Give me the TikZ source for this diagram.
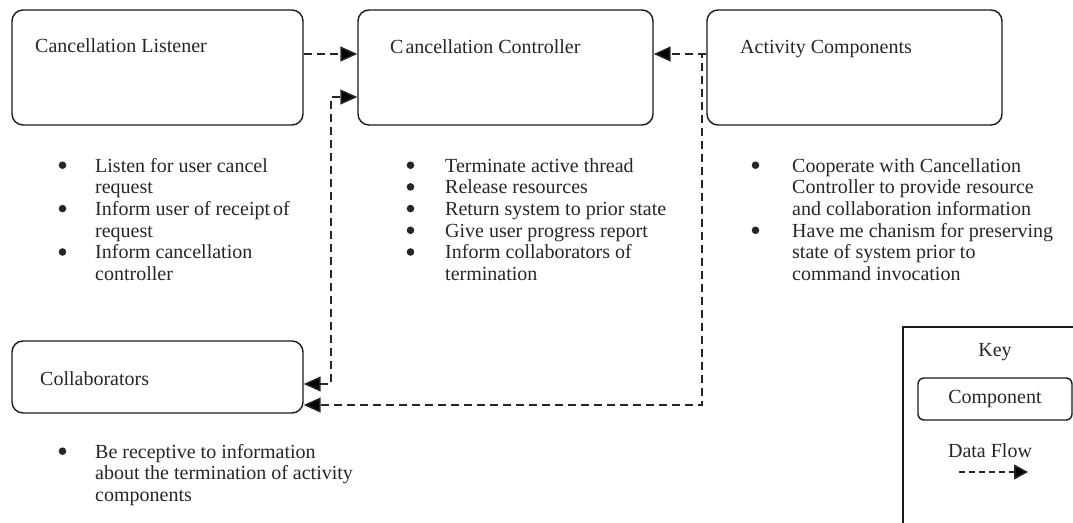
\documentclass[tikz,border=0pt]{standalone}
\usepackage{fontspec}
\setmainfont{Liberation Serif}
\usetikzlibrary{arrows.meta}
% round list bullet, centred about 7pt above the baseline
\newcommand{\listdot}{\tikz[x=1pt,y=1pt,baseline=0pt]\fill (3.8,6.8) circle (3.8);}
\begin{document}
\begin{tikzpicture}[x=1pt,y=-1pt,
  txt/.style={inner sep=0pt, text=black!85, font=\fontsize{20}{21.7}\selectfont},
  comp/.style={draw=black!90, line width=1.4pt, rounded corners=11pt, inner sep=0pt},
  title/.style={txt, anchor=base west},
  itemlist/.style={txt, anchor=base west},
  flow/.style={draw=black!85, line width=1.5pt, dash pattern=on 8pt off 5pt},
  tip/.style={-{Triangle[length=17pt,width=15pt]}},
  tips/.style={{Triangle[length=17pt,width=15pt]}-{Triangle[length=17pt,width=15pt]}}
]
\useasboundingbox (0,0) rectangle (1073,522);
\clip (0,0) rectangle (1073,522);

% components
\node[comp, minimum width=291pt, minimum height=115pt] (listener) at (157.5,67.5) {};
\node[comp, minimum width=295pt, minimum height=115pt] (ctrl) at (505.5,67.5) {};
\node[comp, minimum width=295pt, minimum height=115pt] (act) at (854.5,67.5) {};
\node[comp, minimum width=291pt, minimum height=72pt] (collab) at (157.5,377) {};

% component names
\node[title] (tlistener) at (35,52) {Cancellation Listener};
\node[title] (tctrl) at (390,53) {C\kern2pt ancellation Controller};
\node[title] (tact) at (740,53) {Activity Components};
\node[title] (tcollab) at (40,385) {Collaborators};

% responsibilities
\node[itemlist] (llistener) at (58.5,172) {\begin{tabular}[t]{@{}p{36.5pt}@{}l@{}}
  \listdot & Listen for user cancel\\
   & request\\
  \listdot & Inform user of receipt\kern3pt of\\
   & request\\
  \listdot & Inform cancellation\\
   & controller
\end{tabular}};
\node[itemlist] (lctrl) at (406.5,172) {\begin{tabular}[t]{@{}p{38.5pt}@{}l@{}}
  \listdot & Terminate active thread\\
  \listdot & Release resources\\
  \listdot & Return system to prior state\\
  \listdot & Give user progress report\\
  \listdot & Inform collaborators of\\
   & termination
\end{tabular}};
\node[itemlist] (lact) at (751.5,172) {\begin{tabular}[t]{@{}p{40.5pt}@{}l@{}}
  \listdot & Cooperate with Cancellation\\
   & Controller to provide resource\\
   & and collaboration information\\
  \listdot & Have me\ chanism for preserving\\
   & state of system prior to\\
   & command invocation
\end{tabular}};
\node[itemlist] (lcollab) at (58.5,458) {\begin{tabular}[t]{@{}p{36.5pt}@{}l@{}}
  \listdot & Be receptive to information\\
   & about the termination of activity\\
   & components
\end{tabular}};

% data flows
\coordinate (jl1) at (331,97);
\coordinate (jl2) at (331,384);
\coordinate (jr) at (702,405);
\draw[flow, tip] ([yshift=13.5pt]listener.east) -- ([yshift=13.5pt]ctrl.west);
\draw[flow, tip] ([yshift=13.5pt]act.west) -- ([yshift=13.5pt]ctrl.east);
\draw[flow, tips] ([yshift=-7pt]collab.east) -- (jl2) -- (jl1) -- ([yshift=-29.5pt]ctrl.west);
\draw[flow, tip] ([yshift=13.5pt]act.west) -| (jr) -- ([yshift=-28pt]collab.east);

% key
\draw[draw=black!90, line width=1.4pt] (903,540) -- (903,327) -- (1090,327);
\node[txt] (keytitle) at (995,352) {Key};
\node[comp, rounded corners=6pt, minimum width=154pt, minimum height=42pt, txt] (keycomp) at (995,399) {Component};
\node[txt] (keyflow) at (990,451) {Data Flow};
\coordinate (kf1) at (959,472);
\coordinate (kf2) at (1028,472);
\draw[flow, dash pattern=on 6pt off 4pt, -{Triangle[length=14pt,width=15pt]}] (kf1) -- (kf2);
\end{tikzpicture}
\end{document}
